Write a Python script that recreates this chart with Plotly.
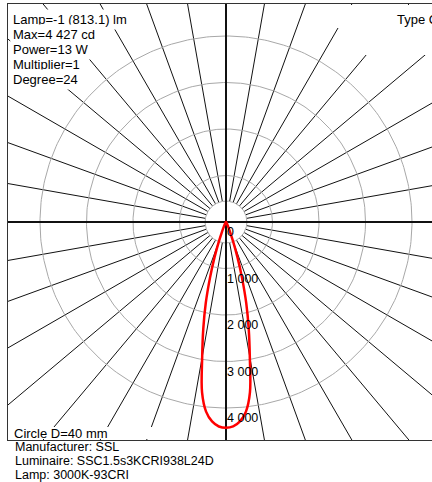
import numpy as np
import plotly.graph_objects as go

# ---- data ----
gamma_deg = [0, 2, 4, 6, 8, 10, 12, 14, 16, 18, 20, 22, 25, 30, 35, 40, 50, 60, 70, 80, 90]
intensity_cd = [4427, 4400, 4300, 4100, 3700, 2950, 2350, 1800, 1250, 800, 450, 250, 110, 40, 20, 10, 5, 2, 0, 0, 0]
circle_values = [1000, 2000, 3000, 4000]
circle_labels = ["1 000", "2 000", "3 000", "4 000"]
info_lines = ["Lamp=-1 (813.1) lm", "Max=4 427 cd", "Power=13 W", "Multiplier=1", "Degree=24"]
footer_lines = ["Manufacturer: SSL", "Luminaire: SSC1.5s3KCRI938L24D", "Lamp: 3000K-93CRI"]

# ---- geometry / style ----
W, H = 432, 482
ML, MR, MT, MB = 8, 0, 4, 42
PX_PER_1000 = 46.5
CX, CY = 226, 222  # pixel centre of the diagram
cd_per_px = 1000.0 / PX_PER_1000
x_range = [-(CX - ML) * cd_per_px, (W - MR - CX) * cd_per_px]
y_range = [-(H - MB - CY) * cd_per_px, (CY - MT) * cd_per_px]
FONT = "Arial, 'Liberation Sans', sans-serif"

fig = go.Figure()

# spokes every 10 degrees
R0, R1 = 450, 8000
sx, sy = [], []
for a in range(0, 360, 10):
    if a % 90 == 0:
        continue
    t = np.radians(a)
    sx += [R0 * np.sin(t), R1 * np.sin(t), None]
    sy += [R0 * np.cos(t), R1 * np.cos(t), None]
fig.add_trace(go.Scatter(x=sx, y=sy, mode="lines", line=dict(color="#111111", width=1),
                         hoverinfo="skip", showlegend=False))

# grey circles
th = np.linspace(0, 2 * np.pi, 361)
cx, cy = [], []
for r in circle_values:
    cx += list(r * np.cos(th)) + [None]
    cy += list(r * np.sin(th)) + [None]
fig.add_trace(go.Scatter(x=cx, y=cy, mode="lines", line=dict(color="#a8a8a8", width=1),
                         hoverinfo="skip", showlegend=False))

# inner white disc
fig.add_trace(go.Scatter(x=R0 * np.cos(th), y=R0 * np.sin(th), mode="lines", fill="toself",
                         fillcolor="white", line=dict(color="#a8a8a8", width=1),
                         hoverinfo="skip", showlegend=False))

# main axes
fig.add_trace(go.Scatter(x=[0, 0, None, -R1, R1], y=[-R1, R1, None, 0, 0], mode="lines",
                         line=dict(color="#111111", width=2), hoverinfo="skip", showlegend=False))

# photometric curve (C0 / C180 plane, symmetric)
g = np.radians(np.array(gamma_deg, dtype=float))
I = np.array(intensity_cd, dtype=float)
gx = np.concatenate([-(I * np.sin(g))[::-1], (I * np.sin(g))[1:]])
gy = np.concatenate([-(I * np.cos(g))[::-1], -(I * np.cos(g))[1:]])
fig.add_trace(go.Scatter(x=gx, y=gy, mode="lines", line=dict(color="#ff0000", width=2.5, shape="spline"),
                         hoverinfo="skip", showlegend=False))

pw = W - ML - MR
ph = H - MT - MB


def px(xp):
    return (xp - ML) / pw


def py(yp):
    return 1 - (yp - MT) / ph


annotations = []
# radial labels
for v, lab in zip([0] + circle_values, ["0"] + circle_labels):
    annotations.append(dict(x=0, y=-v, xref="x", yref="y", text=lab, showarrow=False,
                            xanchor="left", yanchor="top", xshift=-1, yshift=-1,
                            font=dict(family=FONT, size=12.5, color="black")))

for i, t in enumerate(info_lines):
    annotations.append(dict(x=px(10), y=py(19.5 + 15 * i), xref="paper", yref="paper", text=t,
                            showarrow=False, xanchor="left", yanchor="middle", bgcolor="white",
                            borderpad=2,
                            font=dict(family=FONT, size=13, color="black")))
annotations.append(dict(x=px(395), y=py(19.5), xref="paper", yref="paper", text="Type C",
                        showarrow=False, xanchor="left", yanchor="middle",
                        font=dict(family=FONT, size=13, color="black")))
annotations.append(dict(x=px(12), y=py(433), xref="paper", yref="paper", text="Circle D=40 mm",
                        showarrow=False, xanchor="left", yanchor="middle",
                        font=dict(family=FONT, size=13, color="black")))
for i, t in enumerate(footer_lines):
    annotations.append(dict(x=px(13), y=py(447 + 14 * i), xref="paper", yref="paper", text=t,
                            showarrow=False, xanchor="left", yanchor="middle",
                            font=dict(family=FONT, size=12.5, color="black")))

# white masks behind corner texts (inside the frame)
shapes = [
    dict(type="rect", xref="paper", yref="paper", layer="above",
         x0=px(330), x1=px(432), y0=py(28), y1=py(5), fillcolor="white", line=dict(width=0)),
    dict(type="rect", xref="paper", yref="paper", layer="above",
         x0=px(360), x1=px(432), y0=py(55), y1=py(5), fillcolor="white", line=dict(width=0)),
    dict(type="rect", xref="paper", yref="paper", layer="above",
         x0=px(9), x1=px(160), y0=py(439), y1=py(427), fillcolor="white", line=dict(width=0)),
]

fig.update_layout(
    width=W, height=H,
    margin=dict(l=ML, r=MR, t=MT, b=MB, pad=0),
    paper_bgcolor="white", plot_bgcolor="white",
    xaxis=dict(range=x_range, showgrid=False, zeroline=False, showticklabels=False, ticks="",
               showline=True, mirror=True, linecolor="#333333", linewidth=1.2, fixedrange=True),
    yaxis=dict(range=y_range, showgrid=False, zeroline=False, showticklabels=False, ticks="",
               showline=True, mirror=False, linecolor="#333333", linewidth=1.2, fixedrange=True),
    annotations=annotations,
    shapes=shapes,
    showlegend=False,
)

fig.write_html("out.html", config={"displayModeBar": False},
               post_script="document.body.style.margin='0';")
